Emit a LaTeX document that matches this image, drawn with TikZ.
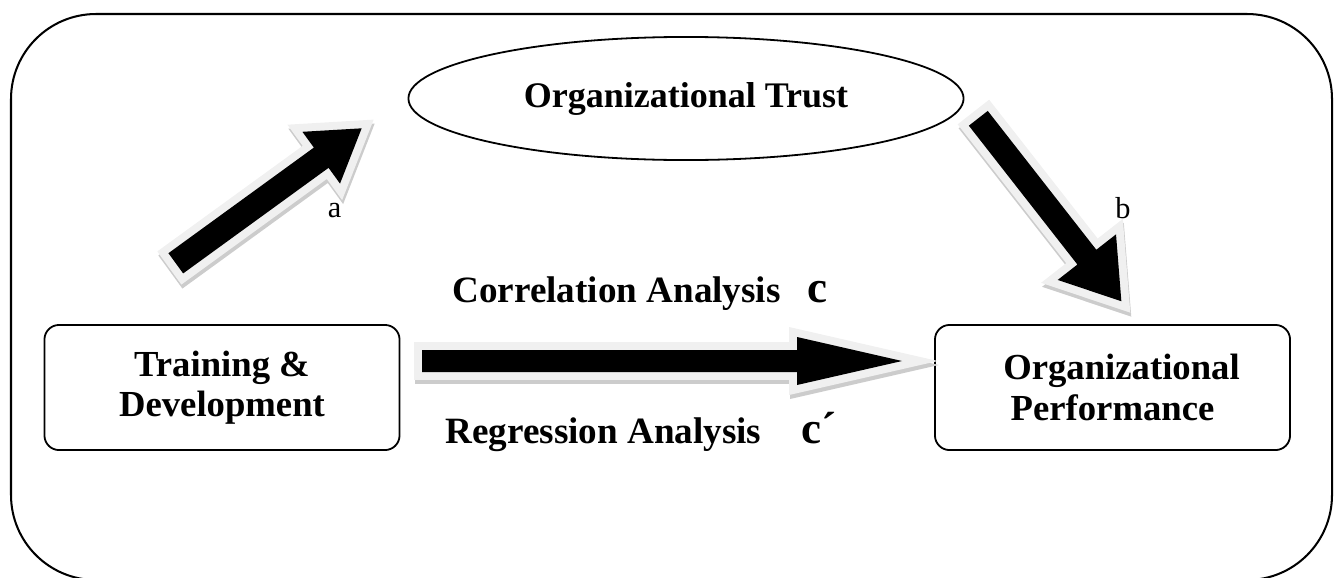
\documentclass[tikz,border=0pt]{standalone}
\usepackage{fontspec}
\setmainfont{Liberation Serif}
\usetikzlibrary{calc,shapes.geometric}

% path of a block arrow along the x axis: shaft half width, head half width, head length
\newcommand{\arrowpath}[3]{(0,-#1) -- ({\arlen-#3},-#1) -- ({\arlen-#3},-#2) -- (\arlen,0)
  -- ({\arlen-#3},#2) -- ({\arlen-#3},#1) -- (0,#1) -- cycle}

% block arrow from #1 to #2
\newcommand{\blockarrow}[5]{%
  \path let \p1 = ($(#2)-(#1)$) in
    \pgfextra{\pgfmathparse{atan2(\y1,\x1)}\xdef\arang{\pgfmathresult}%
              \pgfmathparse{veclen(\x1,\y1)/0.4444}\xdef\arlen{\pgfmathresult}};
  \begin{scope}[shift={(#1)}, shift={(1,4)}, rotate=\arang]
    \filldraw[arrow shadow] \arrowpath{#3}{#4}{#5};
  \end{scope}
  \begin{scope}[shift={(#1)}, rotate=\arang]
    \filldraw[arrow rim] \arrowpath{#3}{#4}{#5};
    \fill[arrow body] \arrowpath{#3}{#4}{#5};
  \end{scope}
}

\begin{document}
\begin{tikzpicture}[x=0.4444pt, y=-0.4444pt,
    box/.style={draw, line width=0.8pt, rounded corners=6.5pt,
                minimum width=157.8pt, minimum height=55.6pt, align=center,
                font=\fontsize{16.3}{18}\selectfont\bfseries},
    bold label/.style={font=\fontsize{16.5}{18}\selectfont\bfseries, inner sep=0pt, anchor=base west},
    path label/.style={font=\fontsize{13.5}{15}\selectfont, inner sep=0pt, anchor=base},
    arrow shadow/.style={draw=black!20, fill=black!20, line width=7.1pt},
    arrow rim/.style={draw=black!6, fill=black!6, line width=7.1pt},
    arrow body/.style={fill=black}]

  \useasboundingbox (0,0) rectangle (1338,577);
  \draw[line width=0.9pt, rounded corners=37.8pt] (11,14) rectangle (1332,580);

  \node[box] (train) at (222,387.5) {Training \&\\Development};
  \node[box] (perf)  at (1112.5,387.5) {\hspace{8pt}Organizational\\Performance};
  \node[ellipse, draw, line width=0.8pt, minimum width=246.7pt, minimum height=54.7pt,
        font=\fontsize{16}{18}\selectfont\bfseries] (trust) at (686,98.5) {Organizational Trust\hspace{7pt}};

  \node[bold label] (corr) at (452,302) {Correlation Analysis\hspace{12pt}{\fontsize{20}{24}\selectfont c}};
  \node[bold label] (regr) at (445,443) {Regression Analysis\hspace{18pt}{\fontsize{20}{24}\selectfont c´}};
  \node[path label] (a) at (334.5,217) {a};
  \node[path label] (b) at (1123,218) {b};

  \coordinate (a-tail) at (175.8,263.3);
  \coordinate (a-tip)  at (361.7,128.3);
  \coordinate (b-tail) at (978.3,118.3);
  \coordinate (b-tip)  at (1121.7,301.7);
  \coordinate (c-tail) at (422,361);
  \coordinate (c-tip)  at (902,361);

  \blockarrow{a-tail}{a-tip}{12.5}{32}{50}
  \blockarrow{b-tail}{b-tip}{12}{37}{56}
  \blockarrow{c-tail}{c-tip}{11}{24}{105}
\end{tikzpicture}
\end{document}
